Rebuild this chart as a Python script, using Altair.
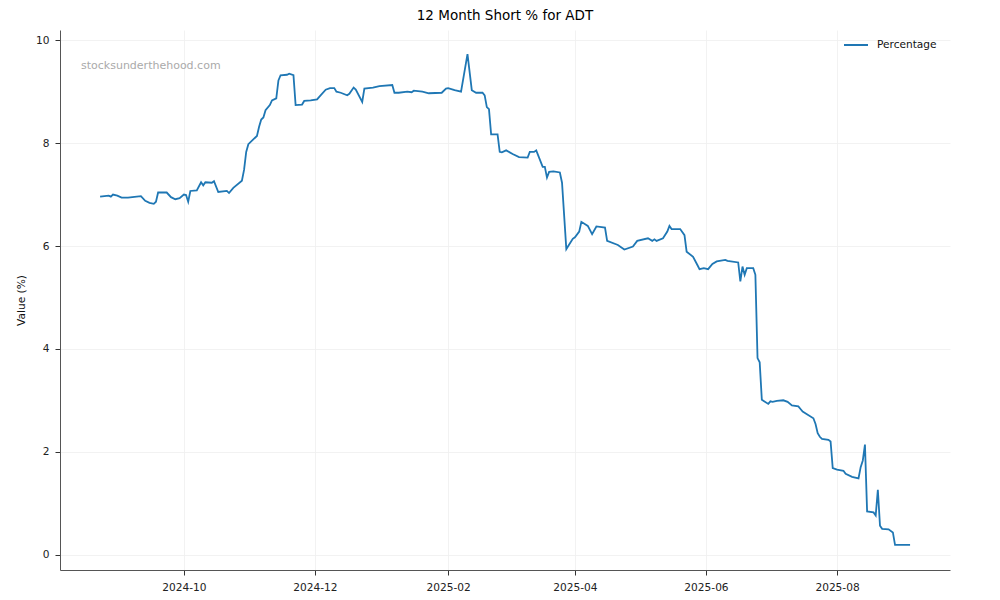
import altair as alt
import pandas as pd

dates = [
    "2024-08-23", "2024-08-25", "2024-08-27", "2024-08-28", "2024-08-29", "2024-08-31",
    "2024-09-02", "2024-09-05", "2024-09-07", "2024-09-11", "2024-09-13", "2024-09-15",
    "2024-09-17", "2024-09-18", "2024-09-19", "2024-09-23", "2024-09-25", "2024-09-27",
    "2024-09-29", "2024-10-01", "2024-10-02", "2024-10-03", "2024-10-04", "2024-10-07",
    "2024-10-09", "2024-10-10", "2024-10-11", "2024-10-14", "2024-10-15", "2024-10-17",
    "2024-10-21", "2024-10-22", "2024-10-24", "2024-10-28", "2024-10-29", "2024-10-30",
    "2024-10-31", "2024-11-04", "2024-11-05", "2024-11-06", "2024-11-07", "2024-11-08",
    "2024-11-10", "2024-11-11", "2024-11-13", "2024-11-14", "2024-11-15", "2024-11-18",
    "2024-11-19", "2024-11-21", "2024-11-22", "2024-11-25", "2024-11-26", "2024-11-29",
    "2024-12-02", "2024-12-03", "2024-12-06", "2024-12-08", "2024-12-10", "2024-12-11",
    "2024-12-13", "2024-12-16", "2024-12-17", "2024-12-19", "2024-12-20", "2024-12-23",
    "2024-12-24", "2024-12-28", "2024-12-31", "2025-01-06", "2025-01-07", "2025-01-09",
    "2025-01-13", "2025-01-15", "2025-01-16", "2025-01-20", "2025-01-23", "2025-01-29",
    "2025-01-31", "2025-02-01", "2025-02-04", "2025-02-07", "2025-02-10", "2025-02-12",
    "2025-02-14", "2025-02-17", "2025-02-18", "2025-02-19", "2025-02-20", "2025-02-21",
    "2025-02-24", "2025-02-25", "2025-02-26", "2025-02-28", "2025-03-03", "2025-03-06",
    "2025-03-10", "2025-03-11", "2025-03-13", "2025-03-14", "2025-03-17", "2025-03-18",
    "2025-03-19", "2025-03-20", "2025-03-22", "2025-03-25", "2025-03-26", "2025-03-28",
    "2025-03-31", "2025-04-01", "2025-04-03", "2025-04-04", "2025-04-07", "2025-04-09",
    "2025-04-11", "2025-04-15", "2025-04-16", "2025-04-21", "2025-04-24", "2025-04-28",
    "2025-04-30", "2025-05-05", "2025-05-07", "2025-05-08", "2025-05-09", "2025-05-12",
    "2025-05-14", "2025-05-15", "2025-05-16", "2025-05-20", "2025-05-22", "2025-05-23",
    "2025-05-26", "2025-05-28", "2025-05-29", "2025-05-31", "2025-06-02", "2025-06-04",
    "2025-06-06", "2025-06-10", "2025-06-11", "2025-06-16", "2025-06-17", "2025-06-18",
    "2025-06-19", "2025-06-20", "2025-06-23", "2025-06-24", "2025-06-25", "2025-06-26",
    "2025-06-27", "2025-06-30", "2025-07-01", "2025-07-02", "2025-07-04", "2025-07-07",
    "2025-07-09", "2025-07-11", "2025-07-14", "2025-07-15", "2025-07-16", "2025-07-18",
    "2025-07-21", "2025-07-22", "2025-07-23", "2025-07-24", "2025-07-25", "2025-07-28",
    "2025-07-29", "2025-07-30", "2025-08-01", "2025-08-04", "2025-08-05", "2025-08-08",
    "2025-08-11", "2025-08-12", "2025-08-13", "2025-08-14", "2025-08-15", "2025-08-18",
    "2025-08-19", "2025-08-20", "2025-08-21", "2025-08-22", "2025-08-25", "2025-08-27",
    "2025-08-28", "2025-09-04",
]

values = [
    6.96, 6.97, 6.98, 6.96, 7.00, 6.98,
    6.94, 6.94, 6.95, 6.97, 6.88, 6.84,
    6.82, 6.86, 7.04, 7.04, 6.95, 6.91,
    6.93, 7.00, 6.99, 6.86, 7.07, 7.08,
    7.24, 7.18, 7.24, 7.23, 7.26, 7.05,
    7.07, 7.03, 7.13, 7.27, 7.48, 7.83,
    7.98, 8.14, 8.32, 8.46, 8.50, 8.64,
    8.74, 8.83, 8.87, 9.22, 9.32, 9.33,
    9.35, 9.32, 8.74, 8.75, 8.82, 8.83,
    8.85, 8.90, 9.04, 9.07, 9.07, 9.00,
    8.98, 8.93, 8.96, 9.08, 9.04, 8.80,
    9.06, 9.08, 9.11, 9.13, 8.98, 8.98,
    9.00, 8.99, 9.02, 9.00, 8.97, 8.98,
    9.06, 9.07, 9.03, 9.00, 9.73, 9.03,
    8.98, 8.98, 8.93, 8.70, 8.66, 8.17,
    8.17, 7.83, 7.82, 7.86, 7.79, 7.73,
    7.72, 7.83, 7.83, 7.86, 7.54, 7.54,
    7.33, 7.44, 7.45, 7.43, 7.23, 5.94,
    6.14, 6.17, 6.28, 6.47, 6.39, 6.23,
    6.38, 6.36, 6.10, 6.02, 5.93, 5.99,
    6.10, 6.15, 6.10, 6.13, 6.10, 6.15,
    6.28, 6.39, 6.33, 6.33, 6.21, 5.89,
    5.79, 5.63, 5.55, 5.57, 5.55, 5.65,
    5.70, 5.73, 5.71, 5.68, 5.31, 5.60,
    5.44, 5.57, 5.57, 5.44, 3.82, 3.74,
    3.01, 2.93, 2.98, 2.97, 2.99, 3.00,
    2.97, 2.90, 2.88, 2.83, 2.78, 2.73,
    2.65, 2.54, 2.36, 2.29, 2.25, 2.23,
    2.20, 1.68, 1.65, 1.63, 1.57, 1.51,
    1.48, 1.70, 1.83, 2.14, 0.84, 0.82,
    0.76, 1.26, 0.56, 0.50, 0.49, 0.43,
    0.19, 0.19,
]

series_name = "Percentage"
title_text = "12 Month Short % for ADT"
y_title = "Value (%)"
watermark = "stocksunderthehood.com"
x_tick_dates = ["2024-10-01", "2024-12-01", "2025-02-01", "2025-04-01", "2025-06-01", "2025-08-01"]
y_ticks = [0, 2, 4, 6, 8, 10]


def ms(s):
    return int(pd.Timestamp(s).value // 10**6)


df = pd.DataFrame({"date": dates, "value": values, "series": series_name})

x_domain = [ms("2024-08-04 08:00"), ms("2025-09-22 14:00")]
x_vals = [ms(d) for d in x_tick_dates]

FS = 10.6

line = alt.Chart(df).mark_line(strokeWidth=1.8, color="#1f77b4").encode(
    x=alt.X(
        "date:T",
        scale=alt.Scale(domain=x_domain, nice=False),
        axis=alt.Axis(
            title=None,
            values=x_vals,
            format="%Y-%m",
            labelFontSize=FS,
            labelColor="#222222",
            tickColor="#333333",
            tickSize=5,
            domainColor="#555555",
            labelPadding=7,
            gridColor="#efefef",
            gridWidth=0.8,
        ),
    ),
    y=alt.Y(
        "value:Q",
        scale=alt.Scale(domain=[-0.3, 10.2], nice=False, zero=False),
        axis=alt.Axis(
            title=y_title,
            values=y_ticks,
            format="d",
            labelFontSize=FS,
            labelColor="#222222",
            tickColor="#333333",
            tickSize=5,
            domainColor="#555555",
            labelPadding=6,
            titleFontSize=FS,
            titleFontWeight="normal",
            titleColor="#111111",
            titlePadding=9,
            gridColor="#efefef",
            gridWidth=0.8,
        ),
    ),
    color=alt.Color(
        "series:N",
        scale=alt.Scale(range=["#1f77b4"]),
        legend=alt.Legend(
            title=None,
            orient="none",
            legendX=783,
            legendY=2,
            symbolType="stroke",
            symbolSize=576,
            symbolStrokeWidth=2,
            labelFontSize=FS,
            labelColor="#111111",
            labelOffset=8,
            padding=0,
        ),
    ),
)

wm = alt.Chart(pd.DataFrame({"t": [watermark]})).mark_text(
    align="left", baseline="middle", fontSize=11, color="#aaaaaa", font="DejaVu Sans"
).encode(
    x=alt.value(21),
    y=alt.value(36),
    text="t:N",
)

chart = (
    alt.layer(line, wm)
    .properties(
        width=890,
        height=540,
        title=alt.TitleParams(title_text, fontSize=13.5, fontWeight="normal", color="#000000", offset=8),
        autosize="none",
        padding={"left": 52, "top": 22, "right": 42, "bottom": 22},
    )
    .configure(font="DejaVu Sans")
    .configure_view(stroke=None)
)

chart.save("out.html", embed_options={"renderer": "svg", "actions": False})
